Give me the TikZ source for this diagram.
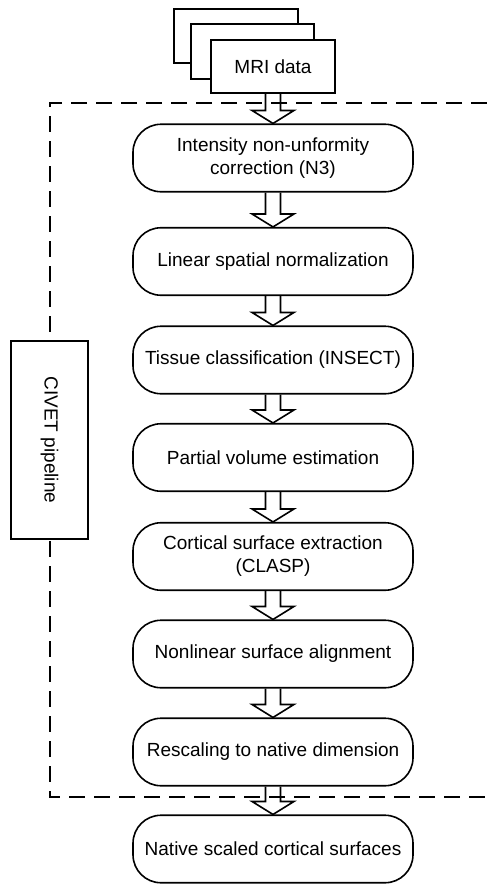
\documentclass[tikz,border=0pt]{standalone}
\usepackage{fontspec}
\setmainfont{Liberation Sans}
\usetikzlibrary{calc}

\tikzset{
  txt/.style={font=\fontsize{19}{23}\selectfont},
  page/.style={draw, line width=1.6pt, fill=white},
  stage/.style={draw, line width=1.6pt, fill=white, rounded corners=28pt,
    minimum width=280pt, minimum height=67.5pt, inner sep=0pt, align=center, txt},
  sidebox/.style={draw, line width=1.6pt, fill=white, minimum width=77pt,
    minimum height=198pt, inner sep=0pt, txt},
  blockarrow/.style={draw, line width=1.6pt, line join=miter},
  frame/.style={draw, line width=1.8pt, dash pattern=on 16pt off 9pt}
}

% hollow block arrow from the bottom of #1 to the top of #2
\newcommand\blockarrow[2]{%
  \draw[blockarrow] ($(#1.south)+(-7.5,0)$) -- ($(#2.north)+(-7.5,-13)$)
    -- ($(#2.north)+(-21,-13)$) -- (#2.north) -- ($(#2.north)+(21,-13)$)
    -- ($(#2.north)+(7.5,-13)$) -- ($(#1.south)+(7.5,0)$);}

\begin{document}
\begin{tikzpicture}[x=1pt,y=-1pt]
\useasboundingbox (0,0) rectangle (487,884);

% stack of input volumes
\draw[page] (174,9) rectangle (298,63);
\draw[page] (191,24) rectangle (314,79);
\node[page, minimum width=124pt, minimum height=53pt, inner sep=0pt, txt] (mri) at (273,66.5) {MRI data};

% processing stages
\node[stage] (n3)   at (273,158)   {Intensity non-unformity\\correction (N3)};
\node[stage] (lin)  at (273,261.5) {Linear spatial normalization};
\node[stage] (cls)  at (273,360)   {Tissue classification (INSECT)};
\node[stage] (pve)  at (273,457.5) {Partial volume estimation};
\node[stage] (clasp) at (273,556.5) {Cortical surface extraction\\(CLASP)};
\node[stage] (nlin) at (273,654)   {Nonlinear surface alignment};
\node[stage] (resc) at (273,752)   {Rescaling to native dimension};
\node[stage] (out)  at (273,849)   {Native scaled cortical surfaces};

\blockarrow{mri}{n3}
\blockarrow{n3}{lin}
\blockarrow{lin}{cls}
\blockarrow{cls}{pve}
\blockarrow{pve}{clasp}
\blockarrow{clasp}{nlin}
\blockarrow{nlin}{resc}
\blockarrow{resc}{out}

% pipeline boundary
\coordinate (ftr) at (487,103);
\coordinate (ftl) at (50,103);
\coordinate (fbl) at (50,797);
\coordinate (fbr) at (487,797);
\draw[frame] (ftr) -- (ftl) -- (fbl) -- (fbr);

\node[sidebox] (civet) at (49.5,440) {\rotatebox{-90}{CIVET pipeline}};
\end{tikzpicture}
\end{document}
